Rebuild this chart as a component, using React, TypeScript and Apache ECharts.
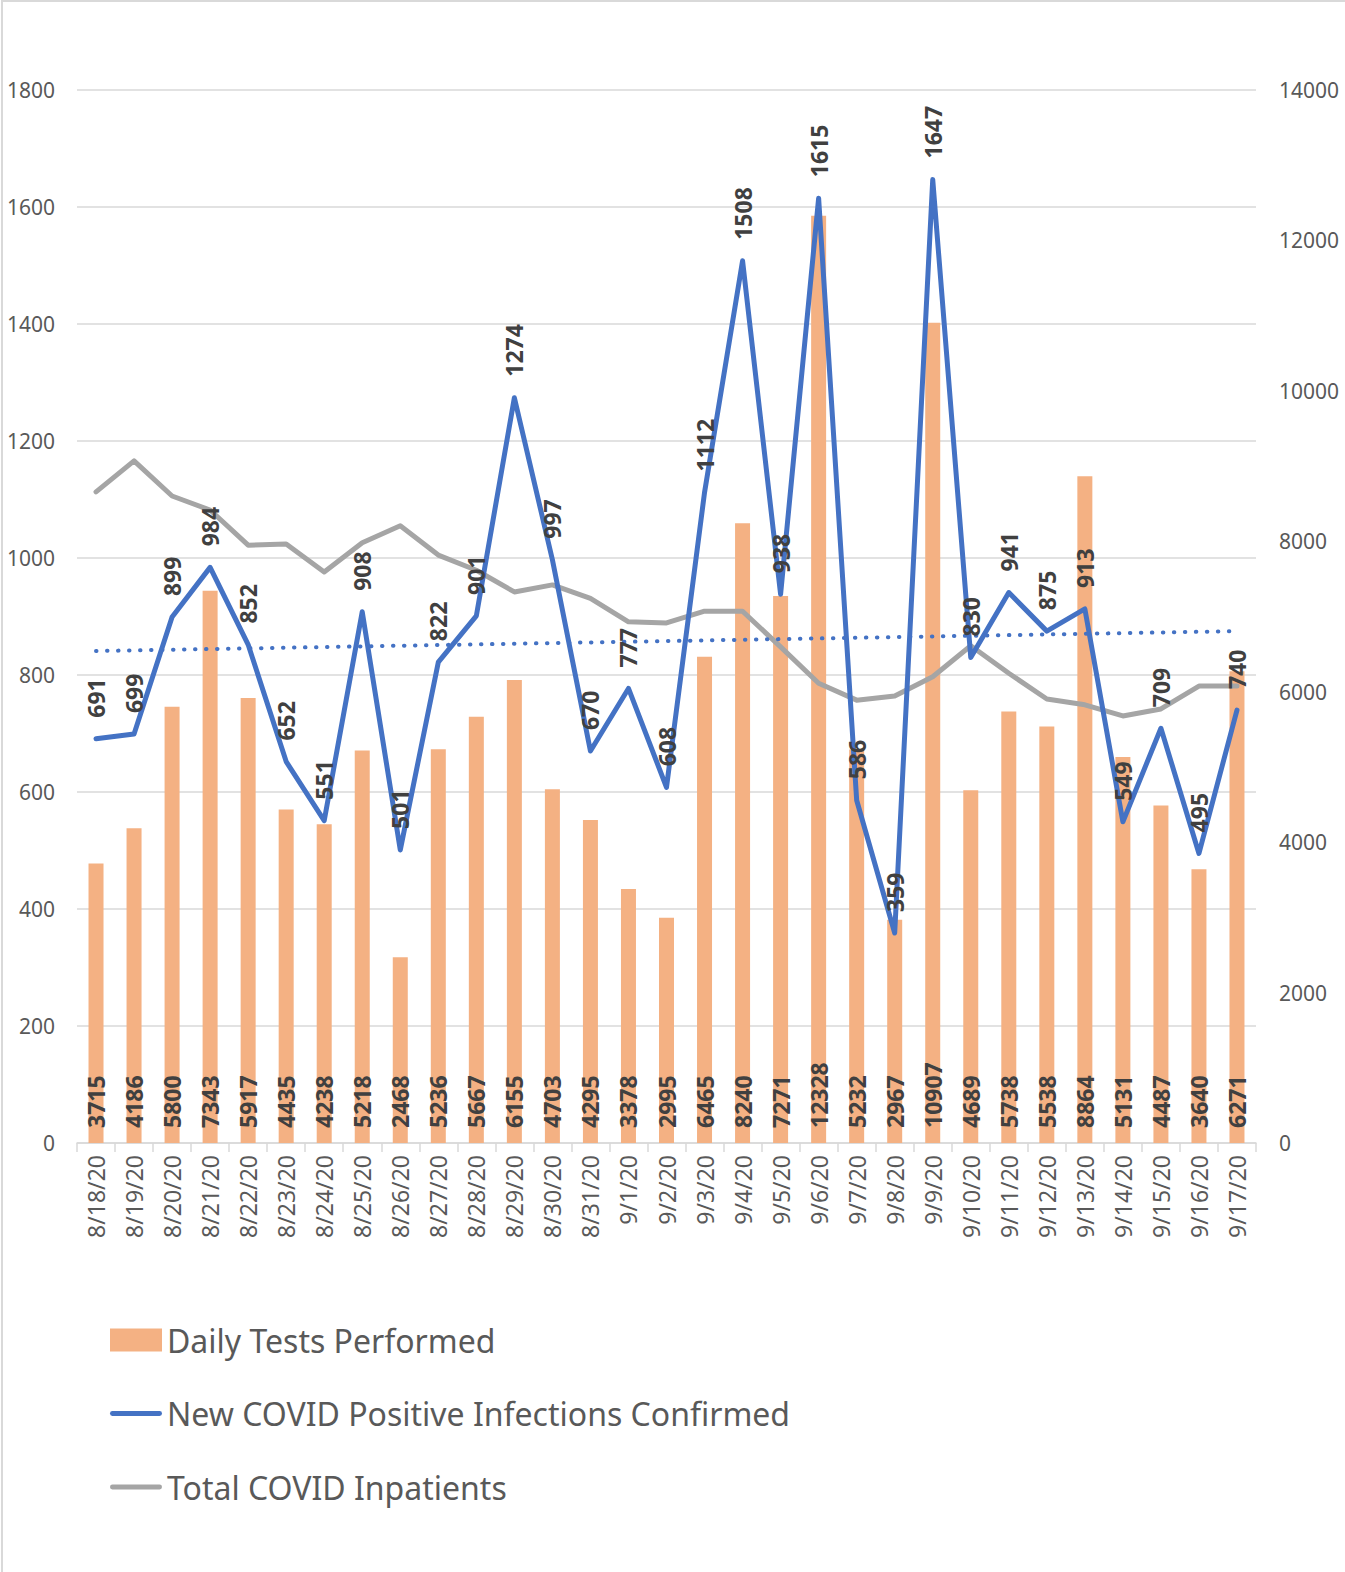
import React, { useEffect, useRef } from "react";
import * as echarts from "echarts";

const categories = [
  "8/18/20", "8/19/20", "8/20/20", "8/21/20", "8/22/20", "8/23/20", "8/24/20", "8/25/20",
  "8/26/20", "8/27/20", "8/28/20", "8/29/20", "8/30/20", "8/31/20", "9/1/20", "9/2/20",
  "9/3/20", "9/4/20", "9/5/20", "9/6/20", "9/7/20", "9/8/20", "9/9/20", "9/10/20",
  "9/11/20", "9/12/20", "9/13/20", "9/14/20", "9/15/20", "9/16/20", "9/17/20",
];

const dailyTests = [
  3715, 4186, 5800, 7343, 5917, 4435, 4238, 5218, 2468, 5236, 5667, 6155, 4703, 4295, 3378, 2995,
  6465, 8240, 7271, 12328, 5232, 2967, 10907, 4689, 5738, 5538, 8864, 5131, 4487, 3640, 6271,
];

const newPositives = [
  691, 699, 899, 984, 852, 652, 551, 908, 501, 822, 901, 1274, 997, 670, 777, 608,
  1112, 1508, 938, 1615, 586, 359, 1647, 830, 941, 875, 913, 549, 709, 495, 740,
];

const inpatients = [
  1113, 1166, 1106, 1082, 1022, 1024, 976, 1026, 1055, 1005, 979, 942, 954, 931, 891, 889,
  909, 909, 848, 786, 757, 764, 797, 850, 803, 759, 749, 730, 742, 781, 781,
];

// linear trend line of new positives, values read at first and last date
const trendEnds = [841, 875];

const leftTicks = { min: 0, max: 1800, interval: 200 };
const rightTicks = { min: 0, max: 14000, interval: 2000 };

const AXIS_FONT = "'Noto Sans', sans-serif";
const LABEL_FONT = "'Open Sans', 'Noto Sans', sans-serif";
const LINE_ICON = "path://M2.5,0 L51.5,0 A2.5,2.5 0 0 1 51.5,5 L2.5,5 A2.5,2.5 0 0 1 2.5,0 Z";

export default function App() {
  const ref = useRef<HTMLDivElement>(null);

  useEffect(() => {
    document.body.style.margin = "0";
    if (!ref.current) return;
    const chart = echarts.init(ref.current, undefined, { renderer: "svg" });
    const dataLabel = {
      show: true,
      rotate: 90,
      align: "left",
      verticalAlign: "middle",
      color: "#404040",
      fontFamily: LABEL_FONT,
      fontWeight: "bold",
      fontSize: 23,
    };
    const plain = (v: number) => String(v);
    chart.setOption({
      animation: false,
      backgroundColor: "#ffffff",
      grid: { left: 77, right: 89, top: 90, bottom: 429, containLabel: false },
      legend: {
        orient: "vertical",
        left: 105,
        top: 1319,
        itemWidth: 52,
        itemHeight: 23,
        itemGap: 41.5,
        symbolKeepAspect: true,
        textStyle: {
          fontFamily: AXIS_FONT,
          fontSize: 32,
          lineHeight: 32,
          color: "#595959",
        },
        data: [
          { name: "Daily Tests Performed", icon: "rect" },
          { name: "New COVID Positive Infections Confirmed", icon: LINE_ICON, itemStyle: { color: "#4472C4", opacity: 1 } },
          { name: "Total COVID Inpatients", icon: LINE_ICON, itemStyle: { color: "#A5A5A5", opacity: 1 } },
        ],
      },
      xAxis: {
        type: "category",
        data: categories,
        boundaryGap: true,
        axisLine: { show: true, lineStyle: { color: "#d9d9d9", width: 1.5 } },
        axisTick: { show: true, length: 9, lineStyle: { color: "#d9d9d9", width: 1.5 } },
        axisLabel: {
          rotate: 90,
          margin: 12,
          interval: 0,
          color: "#595959",
          fontFamily: AXIS_FONT,
          fontSize: 23,
        },
        splitLine: { show: false },
      },
      yAxis: [
        {
          type: "value",
          ...leftTicks,
          position: "left",
          axisLine: { show: false },
          axisTick: { show: false },
          axisLabel: { margin: 22, color: "#595959", fontFamily: AXIS_FONT, fontSize: 21, formatter: plain },
          splitLine: { show: true, lineStyle: { color: "#d9d9d9", width: 1.5 } },
        },
        {
          type: "value",
          ...rightTicks,
          position: "right",
          axisLine: { show: false },
          axisTick: { show: false },
          axisLabel: { margin: 23, color: "#595959", fontFamily: AXIS_FONT, fontSize: 21, formatter: plain },
          splitLine: { show: false },
        },
      ],
      series: [
        {
          name: "Daily Tests Performed",
          type: "bar",
          yAxisIndex: 1,
          data: dailyTests,
          barWidth: 15,
          itemStyle: { color: "#F4B183" },
          z: 1,
          label: { ...dataLabel, position: "insideBottom", distance: 15 },
        },
        {
          name: "Total COVID Inpatients",
          type: "line",
          yAxisIndex: 0,
          data: inpatients,
          symbol: "none",
          showSymbol: false,
          lineStyle: { color: "#A5A5A5", width: 5, join: "round", cap: "round" },
          itemStyle: { color: "#A5A5A5" },
          z: 2,
        },
        {
          name: "Linear trend",
          type: "line",
          yAxisIndex: 0,
          data: [
            [categories[0], trendEnds[0]],
            [categories[categories.length - 1], trendEnds[1]],
          ],
          symbol: "none",
          showSymbol: false,
          silent: true,
          lineStyle: { color: "#4472C4", width: 4, type: [0.5, 10.5], cap: "round" },
          itemStyle: { color: "#4472C4" },
          z: 3,
        },
        {
          name: "New COVID Positive Infections Confirmed",
          type: "line",
          yAxisIndex: 0,
          data: newPositives,
          symbol: "circle",
          symbolSize: 2,
          showSymbol: true,
          showAllSymbol: true,
          lineStyle: { color: "#4472C4", width: 5, join: "round", cap: "round" },
          itemStyle: { color: "#4472C4" },
          z: 4,
          label: { ...dataLabel, position: "top", distance: 20 },
        },
      ],
    });
    return () => chart.dispose();
  }, []);

  return (
    <div style={{ position: "absolute", left: 0, top: 0, width: 1345, height: 1572, background: "#fff" }}>
      <div
        ref={ref}
        style={{ position: "absolute", left: 0, top: 0, width: 1345, height: 1572 }}
      />
      <div
        style={{
          position: "absolute",
          left: 1,
          top: 0,
          width: 1344,
          height: 1572,
          borderLeft: "2px solid #d9d9d9",
          borderTop: "2px solid #d9d9d9",
          boxSizing: "border-box",
          pointerEvents: "none",
        }}
      />
    </div>
  );
}
